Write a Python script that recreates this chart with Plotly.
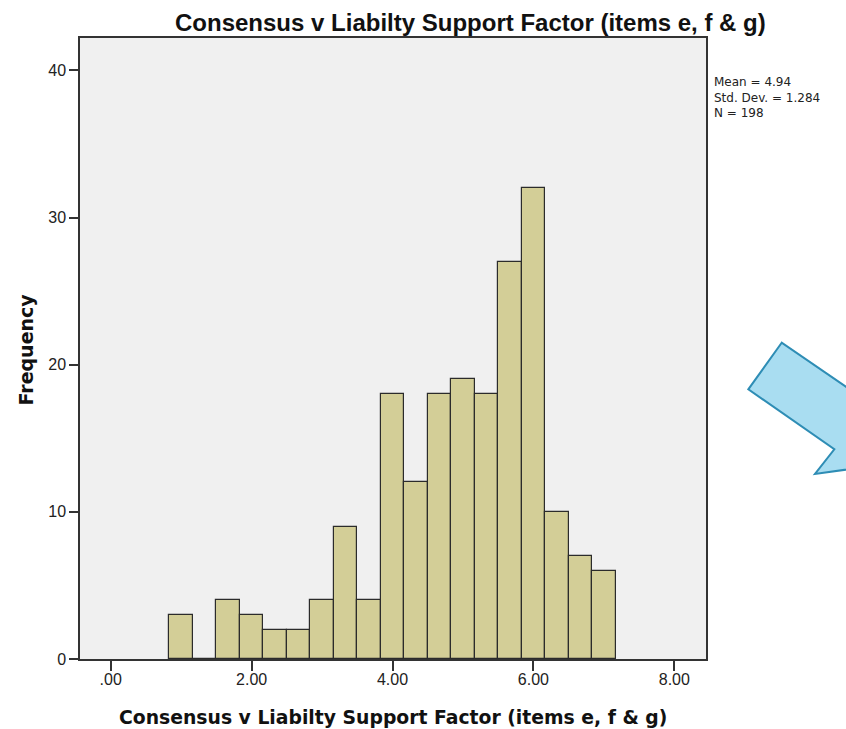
import plotly.graph_objects as go

# Data (bin centres are thirds: the factor is a mean of 3 items on a 1-7 scale)
bin_centers = [1, 4/3, 5/3, 2, 7/3, 8/3, 3, 10/3, 11/3, 4, 13/3, 14/3, 5, 16/3, 17/3, 6, 19/3, 20/3, 7]
frequencies = [3, 0, 4, 3, 2, 2, 4, 9, 4, 18, 12, 18, 19, 18, 27, 32, 10, 7, 6]
bin_width = 1/3

x_tickvals = [0, 2, 4, 6, 8]
x_ticktext = [".00", "2.00", "4.00", "6.00", "8.00"]
y_tickvals = [0, 10, 20, 30, 40]

title_text = "Consensus v Liabilty Support Factor (items e, f & g)"
stats_lines = ["Mean = 4.94", "Std. Dev. = 1.284", "N = 198"]

W, H = 846, 729
L, R, T, B = 80, 140, 38, 70
pw, ph = W - L - R, H - T - B

def px(x):
    return (x - L) / pw

def py(y):
    return (H - B - y) / ph

FONT = "Liberation Sans, Arial, sans-serif"
WIDE = "DejaVu Sans, Verdana, sans-serif"

fig = go.Figure()
fig.add_trace(go.Bar(
    x=bin_centers, y=frequencies, width=bin_width,
    marker=dict(color="#D3CE97", line=dict(color="#2b2b2b", width=1.2)),
    hoverinfo="x+y", showlegend=False,
))

fig.update_layout(
    width=W, height=H,
    margin=dict(l=L, r=R, t=T, b=B, pad=0),
    paper_bgcolor="white", plot_bgcolor="#F0F0F0",
    font=dict(family=FONT, color="#222222", size=15),
    bargap=0,
    xaxis=dict(range=[-0.436, 8.45], tickvals=x_tickvals, ticktext=x_ticktext,
               ticks="outside", ticklen=10, tickwidth=1.5, tickcolor="#333333",
               ticklabelstandoff=-5,
               showgrid=False, zeroline=False, showline=True, linecolor="#333333",
               linewidth=1.5, mirror=True, tickfont=dict(size=16, color="#222222")),
    yaxis=dict(range=[0, 42.2], tickvals=y_tickvals,
               ticks="outside", ticklen=9, tickwidth=1.5, tickcolor="#333333",
               showgrid=False, zeroline=False, showline=True, linecolor="#333333",
               linewidth=1.5, mirror=True, tickfont=dict(size=16, color="#222222")),
)

annots = [
    dict(text="<b>" + title_text + "</b>", x=px(470), y=py(23), xref="paper", yref="paper",
         showarrow=False, xanchor="center", yanchor="middle",
         font=dict(family=FONT, size=24, color="#111111")),
    dict(text="<b>" + title_text + "</b>", x=px(393), y=py(717), xref="paper", yref="paper",
         showarrow=False, xanchor="center", yanchor="middle",
         font=dict(family=WIDE, size=18.8, color="#111111")),
    dict(text="<b>Frequency</b>", x=px(25), y=py(349.5), xref="paper", yref="paper",
         showarrow=False, xanchor="center", yanchor="middle", textangle=-90,
         font=dict(family=WIDE, size=19, color="#111111")),
    dict(text="<br>".join(stats_lines), x=px(712), y=py(73), xref="paper", yref="paper",
         showarrow=False, xanchor="left", yanchor="top", align="left",
         font=dict(family=WIDE, size=12, color="#222222")),
]
fig.update_layout(annotations=annots)

# Decorative blue block arrow on the right (partly outside the frame)
pts = [(781.7, 342.7), (748.3, 389.3), (834.3, 449.3), (815, 474), (900, 462), (900, 420), (880, 410)]
path = "M " + " L ".join(f"{px(x):.4f},{py(y):.4f}" for x, y in pts) + " Z"
fig.add_shape(type="path", path=path, xref="paper", yref="paper",
              fillcolor="#A9DDF1", line=dict(color="#2E8DB5", width=2), layer="above")

fig.write_html("out.html", config={"displayModeBar": False},
               post_script="document.body.style.margin='0px';")
